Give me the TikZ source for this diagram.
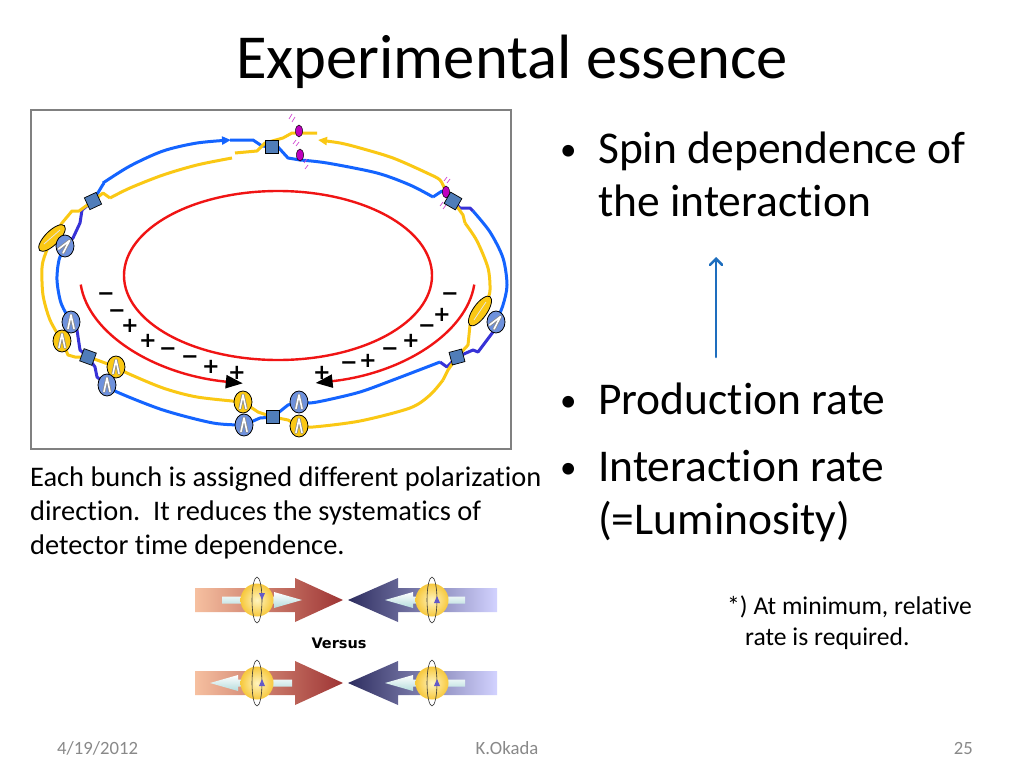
\documentclass[tikz,border=0pt]{standalone}
\usepackage{fontspec}
\setmainfont{Carlito}[Ligatures={NoCommon,NoContextual}]
\newfontfamily\dejavub{DejaVu Sans}
\usetikzlibrary{arrows.meta,shapes.geometric}
\definecolor{beamblue}{RGB}{20,100,255}
\definecolor{darkbeam}{RGB}{55,50,215}
\definecolor{beamyel}{RGB}{250,200,20}
\definecolor{ringred}{RGB}{240,20,20}
\definecolor{sqfill}{RGB}{80,125,185}
\definecolor{circblue}{RGB}{110,145,220}
\definecolor{footgray}{RGB}{137,137,137}
\definecolor{arrowblue}{RGB}{30,110,190}
\definecolor{polmag}{RGB}{190,0,190}
\definecolor{peach}{RGB}{246,192,160}
\definecolor{brick}{RGB}{158,52,52}
\definecolor{navy}{RGB}{45,45,95}
\definecolor{lavender}{RGB}{210,210,255}
\definecolor{spinpurple}{RGB}{100,90,200}
\begin{document}
\begin{tikzpicture}[x=1pt,y=-1pt,
  bl/.style={beamblue,line width=3pt,line join=round},
  db/.style={darkbeam,line width=3pt,line join=round},
  yl/.style={beamyel,line width=3pt,line join=round},
  magnet/.style={draw=black,fill=sqfill,minimum size=13pt,inner sep=0pt,line width=0.7pt},
  bcirc/.style={ellipse,draw=black,fill=circblue,minimum width=18pt,minimum height=22pt,inner sep=0pt,line width=0.8pt},
  ycirc/.style={ellipse,draw=black,fill=beamyel,minimum width=18pt,minimum height=22pt,inner sep=0pt,line width=0.8pt},
  snake/.style={ellipse,draw=black,fill=beamyel,minimum width=35pt,minimum height=14pt,inner sep=0pt,line width=0.8pt},
  polar/.style={ellipse,draw=black,fill=polmag,minimum width=7pt,minimum height=12pt,inner sep=0pt,line width=0.5pt},
  hash/.style={polmag!70,line width=0.7pt},
  charge/.style={font=\dejavub\bfseries\fontsize{21}{21}\selectfont,inner sep=0pt},
  spinsym/.pic={\draw[black!45,line width=3.2pt,line join=round,line cap=round] (-3,6.5)--(0,-7)--(3,6.5);
                \draw[white,line width=1.6pt,line join=round,line cap=round] (-3,6.5)--(0,-7)--(3,6.5);},
  ball/.style={inner color={rgb,255:red,255;green,244;blue,190},outer color={rgb,255:red,247;green,200;blue,60}},
  spinarr/.style={top color=white,bottom color={rgb,255:red,180;green,220;blue,220},draw=none},
  ringline/.style={draw=black!80,line width=0.6pt},
  tri/.style={fill=spinpurple},
  big/.style={font=\fontsize{45.5}{50}\selectfont,anchor=base west,inner sep=0pt},
  bul/.style={font=\fontsize{33}{36}\selectfont,anchor=base west,inner sep=0pt},
  captext/.style={font=\fontsize{28.4}{32}\selectfont,anchor=base west,inner sep=0pt},
  notetext/.style={font=\fontsize{25.6}{30}\selectfont,anchor=base west,inner sep=0pt},
  foot/.style={font=\fontsize{18.7}{20}\selectfont,text=footgray,inner sep=0pt}
]
\useasboundingbox (0,0) rectangle (1024,768);
\fill[white] (0,0) rectangle (1024,768);

% ---- title ----
\node[font=\fontsize{62.6}{70}\selectfont,anchor=base,inner sep=0pt] (title) at (512,78) {Experimental essence};

% ---- ring diagram frame ----
\draw[black!50,line width=1.5pt] (31,110) rectangle (511,449);

% positions
\coordinate (sqTLp) at (93,201);
\coordinate (sqTp) at (272,147);
\coordinate (sqTRp) at (453,201);
\coordinate (sqBLp) at (88,357);
\coordinate (sqBp) at (273,417);
\coordinate (sqBRp) at (457,357);

% red rings
\draw[ringred,line width=2.4pt] (278,275.5) ellipse [x radius=154,y radius=84.5];
\draw[ringred,line width=2.4pt,-{Triangle[length=17pt,width=13pt,color=black]}] (277,275) ++(175:197 and 110) arc[start angle=175,end angle=100,x radius=197,y radius=110];
\draw[ringred,line width=2.4pt,-{Triangle[length=17pt,width=13pt,color=black]}] (278,275) ++(5:197 and 110) arc[start angle=5,end angle=79,x radius=197,y radius=110];

% charges
\node[charge] (l1) at (106,297) {−};
\node[charge] (l2) at (117,314) {−};
\node[charge] (l3) at (130,326) {+};
\node[charge] (l4) at (148,341) {+};
\node[charge] (l5) at (168,352) {−};
\node[charge] (l6) at (190,360) {−};
\node[charge] (l7) at (211,367) {+};
\node[charge] (l8) at (237,373) {+};
\node[charge] (r1) at (450,297) {−};
\node[charge] (r2) at (442,315) {+};
\node[charge] (r3) at (427,329) {−};
\node[charge] (r4) at (411,341) {+};
\node[charge] (r5) at (390,352) {−};
\node[charge] (r6) at (368,361) {+};
\node[charge] (r7) at (349,366) {−};
\node[charge] (r8) at (322,373) {+};

% ---- blue beam ----
\draw[bl,-{Triangle[length=9pt,width=8pt]}] plot[smooth] coordinates {(103,183) (130,166) (163,151) (197,143) (231,140)};
\draw[bl] (230,140) -- (253,140) -- (262,146) -- (sqTp) -- (278,147) -- (288,158) -- (300,160);
\draw[bl] plot[smooth] coordinates {(300,160) (327,163) (377,173) (410,185) (433,197)};
\draw[bl] (433,197) -- (442,191) -- (sqTRp);
\draw[db] (sqTRp) -- (460,208) -- (470,208) -- (473,211);
\draw[bl] plot[smooth] coordinates {(473,211) (490,232) (503,258) (507,285) (503,305) (496,322)};
\draw[db] (496,322) -- (493,332) -- (478,352) -- (473,350) -- (sqBRp) -- (447,367) -- (440,362);
\draw[bl] plot[smooth] coordinates {(440,362) (393,380) (360,392) (327,400) (310,403) (299,402)};
\draw[bl] (299,402) -- (288,405) -- (sqBp) -- (260,418) -- (244,425);
\draw[bl] plot[smooth] coordinates {(244,425) (213,423) (163,410) (117,392) (107,385)};
\draw[db] (107,385) -- (97,377) -- (95,367) -- (sqBLp) -- (80,350) -- (77,330) -- (71,322);
\draw[bl] plot[smooth] coordinates {(71,322) (61,303) (57,280) (59,260) (65,246)};
\draw[db] (65,246) -- (73,238) -- (80,223) -- (82,210) -- (sqTLp);
\draw[bl] (sqTLp) -- (102,186) -- (104,183);

% ---- yellow beam ----
\draw[yl] plot[smooth] coordinates {(110,198) (130,188) (163,175) (197,165) (232,158)};
\draw[yl] (235,153) -- (257,151) -- (265,143) -- (283,138) -- (292,133) -- (317,133);
\draw[yl,-{Triangle[length=9pt,width=8pt]}] plot[smooth] coordinates {(445,190) (440,180) (427,173) (393,158) (360,148) (340,143) (318,140)};
\draw[yl] (446,192) -- (sqTRp) -- (463,215) -- (465,223);
\draw[yl] plot[smooth] coordinates {(465,223) (477,241) (488,268) (490,290) (487,300) (480,311)};
\draw[yl] (480,311) -- (470,325) -- (468,345) -- (sqBRp) -- (448,370) -- (443,380);
\draw[yl] plot[smooth] coordinates {(443,380) (430,395) (410,408) (360,421) (313,427) (299,426)};
\draw[yl] (299,426) -- (288,420) -- (sqBp) -- (258,412) -- (243,402);
\draw[yl] plot[smooth] coordinates {(243,402) (197,397) (163,388) (127,373) (116,367)};
\draw[yl] (116,367) -- (97,360) -- (sqBLp) -- (75,357) -- (68,355) -- (62,341);
\draw[yl] plot[smooth] coordinates {(62,341) (50,320) (43,295) (42,268) (45,255) (52,238)};
\draw[yl] (52,238) -- (62,223) -- (72,211) -- (79,211) -- (sqTLp) -- (103,193) -- (110,198);

% ---- polarimeter markers ----
\node[polar] (mg1) at (299,131) {};
\node[polar] (mg2) at (300,155) {};
\node[polar] (mg3) at (446,192) {};
\draw[hash] (289,119)--(292,114) (292,122)--(295,117);
\draw[hash] (293,144)--(296,140) (296,146)--(299,142);
\draw[hash] (304,163)--(307,159) (305,169)--(308,165);
\draw[hash] (444,181)--(447,177) (447,183)--(450,179);
\draw[hash] (440,206)--(443,202) (443,209)--(446,205);

% ---- magnets ----
\node[magnet,rotate=25] (sqTL) at (sqTLp) {};
\node[magnet] (sqT) at (sqTp) {};
\node[magnet,rotate=-30] (sqTR) at (sqTRp) {};
\node[magnet,rotate=-20] (sqBL) at (sqBLp) {};
\node[magnet] (sqB) at (sqBp) {};
\node[magnet,rotate=15] (sqBR) at (sqBRp) {};

% ---- snakes / spin rotators ----
\node[snake,rotate=45] (yE1) at (52,238) {};
\draw[white!80!gray,line width=0.8pt] (44,244) -- (60,230);
\node[bcirc] (bc1) at (65,246) {};  \pic[rotate=-40] at (bc1) {spinsym};
\node[bcirc] (bc2) at (71,322) {};  \pic at (bc2) {spinsym};
\node[ycirc] (yc2) at (62,341) {};  \pic at (yc2) {spinsym};
\node[ycirc] (yc3) at (116,367) {}; \pic at (yc3) {spinsym};
\node[bcirc] (bc3) at (107,385) {}; \pic at (bc3) {spinsym};
\node[ycirc] (yc4) at (243,402) {}; \pic at (yc4) {spinsym};
\node[bcirc] (bc4) at (244,425) {}; \pic at (bc4) {spinsym};
\node[bcirc] (bc5) at (299,402) {}; \pic at (bc5) {spinsym};
\node[ycirc] (yc5) at (299,426) {}; \pic at (yc5) {spinsym};
\node[snake,rotate=55] (yE2) at (480,311) {};
\draw[white!80!gray,line width=0.8pt] (474,320) -- (486,302);
\node[bcirc] (bc6) at (496,322) {}; \pic[rotate=-40] at (bc6) {spinsym};

% ---- caption ----
\node[captext] (c1) at (30,486) {Each bunch is assigned different polarization};
\node[captext] (c2) at (30,520) {direction.\ \ It reduces the systematics of};
\node[captext] (c3) at (30,554) {detector time dependence.};

% ---- versus graphic ----
\foreach \yy in {600,683}{
  \shade[left color=peach,right color=brick] (195,\yy-12) -- (295,\yy-12) -- (295,\yy-22) -- (343,\yy) -- (295,\yy+22) -- (295,\yy+12) -- (195,\yy+12) -- cycle;
  \shade[left color=navy,right color=lavender] (348,\yy) -- (398,\yy-22) -- (398,\yy-12) -- (497,\yy-12) -- (497,\yy+12) -- (398,\yy+12) -- (398,\yy+22) -- cycle;
  \shade[spinarr] (385,\yy) -- (413,\yy-8) -- (413,\yy-3.5) -- (465,\yy-3.5) -- (465,\yy+3.5) -- (413,\yy+3.5) -- (413,\yy+8) -- cycle;
}
\shade[spinarr] (302,600) -- (274,592) -- (274,596.5) -- (222,596.5) -- (222,603.5) -- (274,603.5) -- (274,608) -- cycle;
\shade[spinarr] (210,683) -- (238,675) -- (238,679.5) -- (292,679.5) -- (292,686.5) -- (238,686.5) -- (238,691) -- cycle;
\shade[ball] (257,600) circle[radius=16.5];
\shade[ball] (432,600) circle[radius=16.5];
\shade[ball] (257,683) circle[radius=16.5];
\shade[ball] (432,683) circle[radius=16.5];
\draw[ringline] (257,600) ellipse[x radius=5,y radius=23];
\draw[ringline] (432,600) ellipse[x radius=5,y radius=23];
\draw[ringline] (257,683) ellipse[x radius=5,y radius=23];
\draw[ringline] (432,683) ellipse[x radius=5,y radius=23];
\fill[tri] (259,593) -- (265,593) -- (262,600) -- cycle;
\fill[tri] (434,603) -- (440,603) -- (437,596) -- cycle;
\fill[tri] (259,686) -- (265,686) -- (262,679) -- cycle;
\fill[tri] (434,686) -- (440,686) -- (437,679) -- cycle;
\node[font=\dejavub\bfseries\fontsize{14.5}{15}\selectfont,inner sep=0pt] (vs) at (339,643) {Versus};

% ---- right column ----
\node[bul] (b1) at (560,160) {•};
\node[big] (t1) at (598,163) {Spin dependence of};
\node[big] (t1b) at (598,216) {the interaction};
\coordinate (aBot) at (716,357);
\coordinate (aTop) at (716,257);
\draw[arrowblue,line width=2.6pt,line cap=round,-{Straight Barb[length=6pt,width=12pt,line cap=round]}] (aBot) -- (aTop);
\node[bul] (b2) at (560,411) {•};
\node[big] (t2) at (598,414) {Production rate};
\node[bul] (b3) at (560,478) {•};
\node[big] (t3) at (598,481) {Interaction rate};
\node[big] (t3b) at (598,534) {(=Luminosity)};
\node[notetext] (n1) at (727,614) {*) At minimum, relative};
\node[notetext] (n2) at (745,645) {rate is required.};

% ---- footer ----
\node[foot,anchor=base west] (f1) at (57,754) {4/19/2012};
\node[foot,anchor=base] (f2) at (507,754) {K.Okada};
\node[foot,anchor=base east] (f3) at (973,754) {25};
\end{tikzpicture}
\end{document}
